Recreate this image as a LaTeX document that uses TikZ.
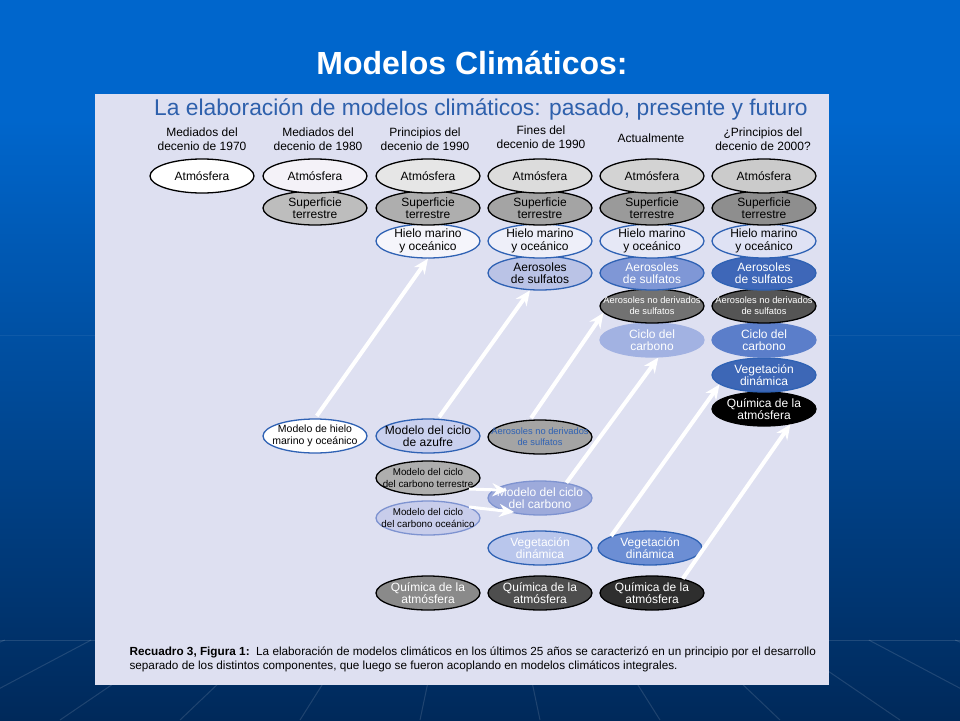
\documentclass[tikz,border=0pt]{standalone}
\usepackage{fontspec}
\setmainfont{Liberation Sans}
\usetikzlibrary{shapes.geometric, arrows.meta}

\definecolor{slideblue}{HTML}{0066CC}
\definecolor{slidenavy}{HTML}{00295A}
\definecolor{panelgray}{HTML}{DEE0F1}
\definecolor{headblue}{HTML}{2E60AC}
\definecolor{rimblue}{HTML}{2F62B4}
\definecolor{rimpale}{HTML}{7E93D0}
\definecolor{atmB}{HTML}{F4F2F8}
\definecolor{atmC}{HTML}{E6E6E6}
\definecolor{atmD}{HTML}{DCDCDC}
\definecolor{atmE}{HTML}{D3D3D3}
\definecolor{atmF}{HTML}{CBCBCB}
\definecolor{supB}{HTML}{BDBDBD}
\definecolor{supC}{HTML}{AEAEAE}
\definecolor{supD}{HTML}{A4A4A4}
\definecolor{supE}{HTML}{9A9A9A}
\definecolor{supF}{HTML}{8E8E8E}
\definecolor{hieC}{HTML}{F5F5FB}
\definecolor{hieD}{HTML}{EEEFF9}
\definecolor{hieE}{HTML}{E6E8F6}
\definecolor{hieF}{HTML}{DFE2F4}
\definecolor{aesD}{HTML}{BAC3E6}
\definecolor{aesE}{HTML}{7F97D6}
\definecolor{aesF}{HTML}{3E67B8}
\definecolor{andE}{HTML}{727272}
\definecolor{andF}{HTML}{555555}
\definecolor{cicE}{HTML}{A2B2E2}
\definecolor{cicF}{HTML}{5B7ECA}
\definecolor{vegD}{HTML}{B9C6EC}
\definecolor{vegE}{HTML}{6C8ED4}
\definecolor{vegF}{HTML}{3D67B6}
\definecolor{quiC}{HTML}{8A8A8A}
\definecolor{quiD}{HTML}{4E4E4E}
\definecolor{quiE}{HTML}{2E2E2E}
\definecolor{azuf}{HTML}{C9D0EE}
\definecolor{carbo}{HTML}{9DAADB}
\definecolor{ocean}{HTML}{C8CDEB}

\tikzset{
  blob/.style={ellipse, minimum width=\eWidth, minimum height=\eHeight,
    inner xsep=-20pt, inner ysep=-10pt, align=center, line width=1.3pt,
    font=\fontsize{12}{12.5}\selectfont},
  blk/.style={blob, draw=black},
  blu/.style={blob, draw=rimblue},
  smalltxt/.style={font=\fontsize{9.3}{11}\selectfont},
  hdr/.style={align=center, font=\fontsize{12}{14}\selectfont},
  feed/.style={draw=white, line width=4pt, -{Stealth[length=15pt, width=13pt]}}
}

\begin{document}
\begin{tikzpicture}[x=1pt, y=-1pt]
\def\eWidth{104pt}
\def\eHeight{34pt}
\def\colA{202}
\def\colB{315}
\def\colC{428}
\def\colD{540}
\def\colE{652}
\def\colF{764}

\useasboundingbox (0,0) rectangle (960,720);

%slide background
\fill[slideblue] (0,0) rectangle (960,120);
\shade[top color=slideblue, bottom color=slidenavy] (0,120) rectangle (960,720);
\draw[white, opacity=0.12, line width=1pt] (0,640) -- (960,640);
\draw[white, opacity=0.06, line width=1pt] (0,335) -- (960,335);
\foreach \xb in {-300,-180,-60,60,180,300,420,540,660,780,900,1020,1140,1260}
  \draw[white, opacity=0.12, line width=1pt] ({480+(\xb-480)*0.72},640) -- (\xb,720);

\node[text=white, font=\bfseries\fontsize{32}{32}\selectfont] (title) at (472,63) {Modelos Climáticos:};

%panel
\fill[panelgray] (95,94) rectangle (829,685);
\node[text=headblue, font=\fontsize{22.8}{24}\selectfont] (sub) at (481,109) {La elaboración de modelos climáticos: pasado, presente y futuro};

%column heads
\node[hdr] (h1) at (\colA,139) {Mediados del\\decenio de 1970};
\node[hdr] (h2) at (318,139) {Mediados del\\decenio de 1980};
\node[hdr] (h3) at (425,139) {Principios del\\decenio de 1990};
\node[hdr] (h4) at (541,137) {Fines del\\decenio de 1990};
\node[hdr] (h5) at (651,138) {Actualmente};
\node[hdr] (h6) at (763,139) {¿Principios del\\decenio de 2000?};

%stacks of coupled models
\node[blk, fill=white] (atm1) at (\colA,176) {Atmósfera};

\node[blk, fill=supB] (sup2) at (\colB,208) {Superficie\\terrestre};
\node[blk, fill=atmB] (atm2) at (\colB,176) {Atmósfera};

\node[blu, fill=hieC] (hie3) at (\colC,241) {Hielo marino\\y oceánico};
\node[blk, fill=supC] (sup3) at (\colC,208) {Superficie\\terrestre};
\node[blk, fill=atmC] (atm3) at (\colC,176) {Atmósfera};

\node[blu, fill=aesD] (aes4) at (\colD,273) {Aerosoles\\de sulfatos};
\node[blu, fill=hieD] (hie4) at (\colD,241) {Hielo marino\\y oceánico};
\node[blk, fill=supD] (sup4) at (\colD,208) {Superficie\\terrestre};
\node[blk, fill=atmD] (atm4) at (\colD,176) {Atmósfera};

\node[blob, draw=cicE, fill=cicE, text=white] (cic5) at (\colE,340) {Ciclo del\\carbono};
\node[blk, fill=andE, text=white, smalltxt] (and5) at (\colE,306) {Aerosoles no derivados\\de sulfatos};
\node[blu, fill=aesE, text=white] (aes5) at (\colE,273) {Aerosoles\\de sulfatos};
\node[blu, fill=hieE] (hie5) at (\colE,241) {Hielo marino\\y oceánico};
\node[blk, fill=supE] (sup5) at (\colE,208) {Superficie\\terrestre};
\node[blk, fill=atmE] (atm5) at (\colE,176) {Atmósfera};

\node[blk, fill=black, text=white] (qui6) at (\colF,409) {Química de la\\atmósfera};
\node[blu, fill=vegF, text=white] (veg6) at (\colF,375) {Vegetación\\dinámica};
\node[blob, draw=cicF, fill=cicF, text=white] (cic6) at (\colF,340) {Ciclo del\\carbono};
\node[blk, fill=andF, text=white, smalltxt] (and6) at (\colF,306) {Aerosoles no derivados\\de sulfatos};
\node[blu, fill=aesF, text=white] (aes6) at (\colF,273) {Aerosoles\\de sulfatos};
\node[blu, fill=hieF] (hie6) at (\colF,241) {Hielo marino\\y oceánico};
\node[blk, fill=supF] (sup6) at (\colF,208) {Superficie\\terrestre};
\node[blk, fill=atmF] (atm6) at (\colF,176) {Atmósfera};

%separate component models
\node[blu, fill=white, font=\fontsize{10.5}{12}\selectfont] (mhie) at (\colB,436) {Modelo de hielo\\marino y oceánico};
\node[blu, fill=azuf] (maz) at (\colC,436) {Modelo del ciclo\\de azufre};
\node[blk, fill=supD, text=rimblue, smalltxt] (anl4) at (\colD,437) {Aerosoles no derivados\\de sulfatos};
\node[blk, fill=supC, font=\fontsize{9.8}{11.5}\selectfont] (mct) at (\colC,478) {Modelo del ciclo\\del carbono terrestre};
\node[blob, draw=rimpale, fill=ocean, font=\fontsize{9.8}{11.5}\selectfont] (mco) at (\colC,518) {Modelo del ciclo\\del carbono oceánico};
\node[blob, draw=rimpale, fill=carbo, text=white] (mcc) at (\colD,498) {Modelo del ciclo\\del carbono};
\node[blu, fill=vegD, text=white] (veg4) at (\colD,548) {Vegetación\\dinámica};
\node[blu, fill=vegE, text=white] (veg5) at (650,548) {Vegetación\\dinámica};
\node[blk, fill=quiC, text=white] (qui3) at (\colC,593) {Química de la\\atmósfera};
\node[blk, fill=quiD, text=white] (qui4) at (\colD,593) {Química de la\\atmósfera};
\node[blk, fill=quiE, text=white] (qui5) at (\colE,593) {Química de la\\atmósfera};

%draw edges
\draw[feed, shorten <=3pt] (mhie.north) -- (hie3.south);
\draw[feed, shorten <=2pt] (maz.60) -- (aes4.240);
\draw[feed, shorten <=2pt] (anl4.120) -- (and5.188);
\draw[feed] (mcc.30) -- (cic5.290);
\draw[feed] (veg5.163) -- (veg6.192);
\draw[feed] (qui5.25) -- (qui6.330);
\draw[feed, line width=3pt, shorten >=-14pt] (mct.345) -- (mcc.170);
\draw[feed, line width=3pt, shorten >=-10pt] (mco.15) -- (mcc.200);

%caption
\node[anchor=west, align=left, font=\fontsize{11.75}{14}\selectfont] (cap) at (126,659)
  {\textbf{Recuadro 3, Figura 1:}\ \ La elaboración de modelos climáticos en los últimos 25 años se caracterizó en un principio por el desarrollo\\
   separado de los distintos componentes, que luego se fueron acoplando en modelos climáticos integrales.};
\end{tikzpicture}
\end{document}
